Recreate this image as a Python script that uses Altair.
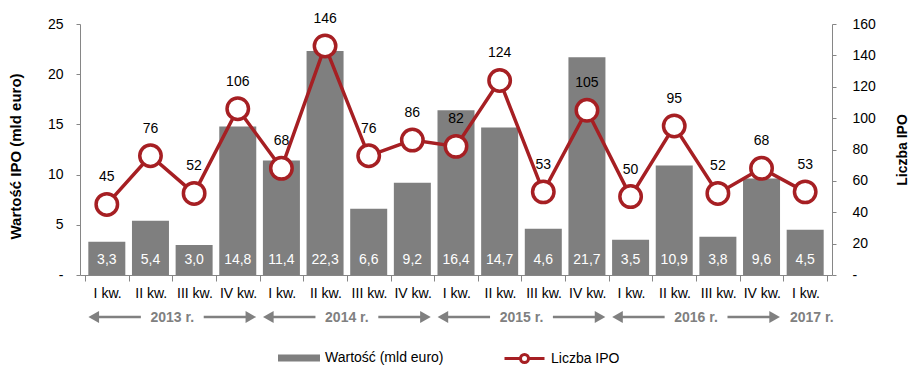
import json
import altair as alt
import pandas as pd

quarters = ["I kw.", "II kw.", "III kw.", "IV kw.", "I kw.", "II kw.", "III kw.", "IV kw.",
            "I kw.", "II kw.", "III kw.", "IV kw.", "I kw.", "II kw.", "III kw.", "IV kw.", "I kw."]
values = [3.3, 5.4, 3.0, 14.8, 11.4, 22.3, 6.6, 9.2, 16.4, 14.7, 4.6, 21.7, 3.5, 10.9, 3.8, 9.6, 4.5]
ipo = [45, 76, 52, 106, 68, 146, 76, 86, 82, 124, 53, 105, 50, 95, 52, 68, 53]
years = ["2013 r.", "2014 r.", "2015 r.", "2016 r.", "2017 r."]
year_first = [0, 4, 8, 12, 16]
year_last = [3, 7, 11, 15, 16]

BAR_NAME = "Wartość (mld euro)"
LINE_NAME = "Liczba IPO"
GRAY = "#7f7f7f"
RED = "#a61f23"
AXIS_GRAY = "#868686"
FONT = "Liberation Sans"

df = pd.DataFrame({"i": list(range(len(quarters))), "q": quarters, "v": values, "n": ipo})
ydf = pd.DataFrame({"year": years, "a": year_first, "b": year_last})

W, H = 752, 251

xs = alt.Scale(domain=[-0.5, len(quarters) - 0.5], nice=False, zero=False)
xaxis = alt.Axis(
    values=[k - 0.5 for k in range(len(quarters) + 1)],
    labelExpr=json.dumps(quarters) + "[round(datum.value + 0.5)] || ''",
    labelOffset=W / len(quarters) / 2,
    labelOverlap=False, labelBound=False, labelFlush=False,
    tickSize=6, labelPadding=5, labelFontSize=14, labelFont=FONT, labelColor="#000000",
    domainColor=AXIS_GRAY, tickColor=AXIS_GRAY, grid=False, title=None,
)

ls = alt.Scale(domain=[0, 25], nice=False)
laxis = alt.Axis(
    values=[0, 5, 10, 15, 20, 25],
    labelExpr="datum.value == 0 ? '-' : datum.label",
    tickSize=4, labelPadding=13, labelFontSize=14, labelFont=FONT, labelColor="#000000",
    labelFlush=False, labelBound=False,
    domainColor=AXIS_GRAY, tickColor=AXIS_GRAY, grid=False,
    title="Wartość IPO (mld euro)", titleFont=FONT, titleFontSize=15, titleFontWeight="bold",
    titleAngle=270, titleX=-65, titleY=132, titleBaseline="middle", titleAlign="center",
    titleColor="#000000",
)

rs = alt.Scale(domain=[0, 160], nice=False)
raxis = alt.Axis(
    orient="right",
    values=list(range(0, 161, 20)),
    labelExpr="datum.value == 0 ? '-' : datum.label",
    tickSize=4, labelPadding=16, labelFontSize=14, labelFont=FONT, labelColor="#000000",
    labelFlush=False, labelBound=False,
    domainColor=AXIS_GRAY, tickColor=AXIS_GRAY, grid=False,
    title=LINE_NAME, titleFont=FONT, titleFontSize=14, titleFontWeight="bold",
    titleAngle=270, titleX=70, titleY=H / 2, titleBaseline="middle", titleAlign="center",
    titleColor="#000000",
)

base = alt.Chart(df)

bars = base.transform_calculate(s=f"'{BAR_NAME}'").mark_bar(size=37).encode(
    x=alt.X("i:Q", scale=xs, axis=xaxis),
    y=alt.Y("v:Q", scale=ls, axis=laxis),
    fill=alt.Fill(
        "s:N",
        scale=alt.Scale(domain=[BAR_NAME], range=[GRAY]),
        legend=alt.Legend(
            orient="none", legendX=198, legendY=313, title=None,
            symbolType="M-1,-0.17L1,-0.17L1,0.17L-1,0.17Z", symbolSize=1764,
            symbolStrokeWidth=0, labelFontSize=14, labelFont=FONT, labelColor="#000000",
            labelOffset=5,
        ),
    ),
)

bar_labels = base.transform_calculate(
    z="0", lab="replace(format(datum.v, '.1f'), '.', ',')"
).mark_text(dy=-15, color="white", fontSize=14, font=FONT, baseline="middle").encode(
    x=alt.X("i:Q", scale=xs, axis=xaxis),
    y=alt.Y("z:Q", scale=ls, axis=laxis),
    text="lab:N",
)

line = base.transform_calculate(s2=f"'{LINE_NAME}'").mark_line(strokeWidth=3.5).encode(
    x=alt.X("i:Q", scale=xs, axis=xaxis),
    y=alt.Y("n:Q", scale=rs, axis=raxis),
    stroke=alt.Stroke(
        "s2:N",
        scale=alt.Scale(domain=[LINE_NAME], range=[RED]),
        legend=alt.Legend(
            orient="none", legendX=423, legendY=313, title=None,
            symbolType="M-1,0L-0.2,0M0.2,0L1,0M0.2,0A0.2,0.2,0,1,1,-0.2,0A0.2,0.2,0,1,1,0.2,0",
            symbolSize=1600, symbolStrokeWidth=3, symbolFillColor="white",
            labelFontSize=14, labelFont=FONT, labelColor="#000000", labelOffset=5,
        ),
    ),
)

points = base.mark_point(
    shape="circle", size=460, filled=True, fill="white", stroke=RED, strokeWidth=3.5, opacity=1
).encode(
    x=alt.X("i:Q", scale=xs, axis=xaxis),
    y=alt.Y("n:Q", scale=rs, axis=raxis),
)

line_labels = base.mark_text(dy=-27, fontSize=14, font=FONT, color="#000000", baseline="middle").encode(
    x=alt.X("i:Q", scale=xs, axis=xaxis),
    y=alt.Y("n:Q", scale=rs, axis=raxis),
    text="n:Q",
)

ybase = alt.Chart(ydf).transform_calculate(
    lo="datum.a - 0.5", hi="datum.b + 0.5",
    mid="(datum.a + datum.b) / 2 + (datum.a == datum.b ? 0.15 : 0)",
    gl="(datum.a + datum.b) / 2 - 0.72", gr="(datum.a + datum.b) / 2 + 0.72",
    tl="datum.a - 0.5 + 0.2", tr="datum.b + 0.5 - 0.2",
)
YROW = 293
year_text = ybase.mark_text(
    fontSize=14, font=FONT, fontWeight="bold", color="#808080", baseline="middle", dy=1
).encode(
    x=alt.X("mid:Q", scale=xs, axis=xaxis), y=alt.value(YROW), text="year:N",
)
arrows = ybase.transform_filter("datum.b > datum.a")
rule_l = arrows.mark_rule(color="#808080", strokeWidth=2.5).encode(
    x=alt.X("tl:Q", scale=xs, axis=xaxis), x2="gl:Q", y=alt.value(YROW),
)
rule_r = arrows.mark_rule(color="#808080", strokeWidth=2.5).encode(
    x=alt.X("gr:Q", scale=xs, axis=xaxis), x2="tr:Q", y=alt.value(YROW),
)
head_l = arrows.mark_point(shape="triangle-left", filled=True, size=150, color="#808080", opacity=1).encode(
    x=alt.X("tl:Q", scale=xs, axis=xaxis), y=alt.value(YROW),
)
head_r = arrows.mark_point(shape="triangle-right", filled=True, size=150, color="#808080", opacity=1).encode(
    x=alt.X("tr:Q", scale=xs, axis=xaxis), y=alt.value(YROW),
)

left = alt.layer(bars, bar_labels)
right = alt.layer(line, points, line_labels)

chart = alt.layer(left, right, rule_l, rule_r, head_l, head_r, year_text).resolve_scale(
    y="independent"
).properties(
    width=W, height=H,
    autosize=alt.AutoSizeParams(type="none"),
    padding={"left": 72, "top": 16, "right": 82, "bottom": 100},
).configure_view(stroke=None)

chart.save("out.html", embed_options={"renderer": "svg", "actions": False})
